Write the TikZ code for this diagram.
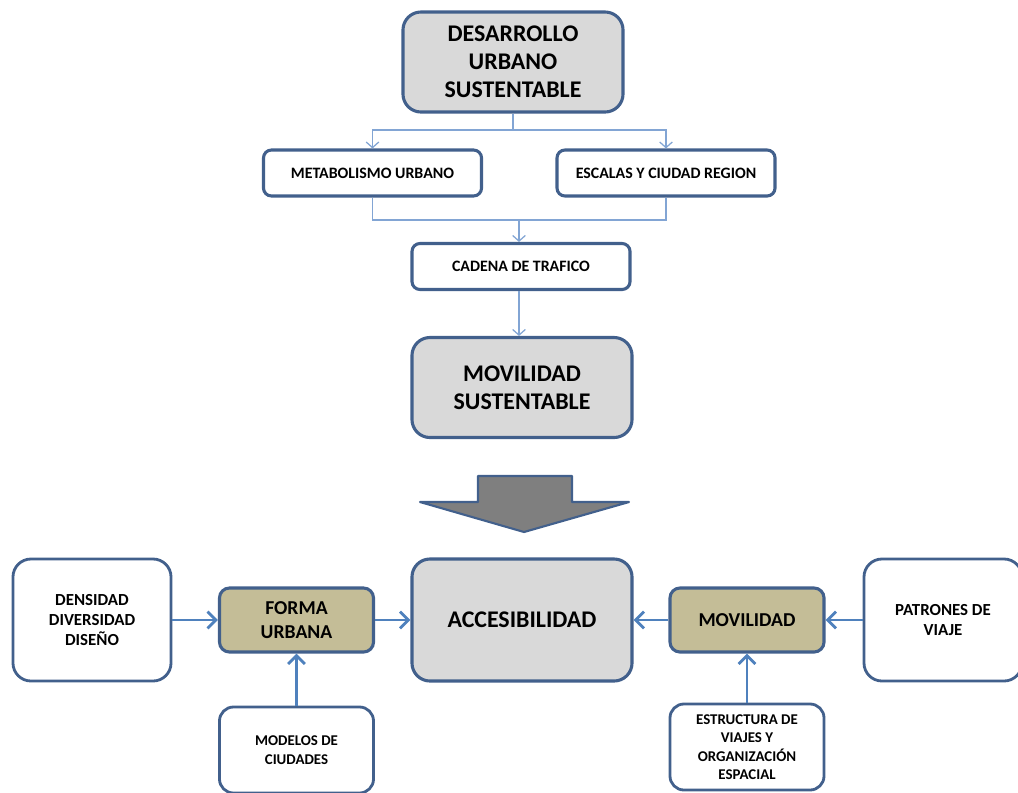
\documentclass[tikz,border=0pt]{standalone}
\usepackage{fontspec}
\setmainfont{Carlito}
\usetikzlibrary{arrows.meta}
\definecolor{boxline}{RGB}{66,96,140}
\definecolor{boxgray}{RGB}{217,217,217}
\definecolor{boxtan}{RGB}{196,189,151}
\definecolor{thinline}{RGB}{130,165,212}
\definecolor{thickline}{RGB}{79,129,189}
\definecolor{bigarrow}{RGB}{127,127,127}

\begin{document}
\begin{tikzpicture}[x=0.025cm, y=-0.025cm,
	bigbox/.style={draw=boxline, line width=2.2pt, fill=boxgray, rounded corners=0.45cm, align=center, font=\bfseries\fontsize{17}{20}\selectfont, minimum width=5.5cm, minimum height=2.5cm},
	smallbox/.style={draw=boxline, line width=2.2pt, fill=white, rounded corners=0.2cm, align=center, font=\bfseries\fontsize{11.3}{13}\selectfont, minimum width=5.45cm, minimum height=1.15cm},
	sidebox/.style={draw=boxline, line width=2pt, fill=white, rounded corners=0.45cm, align=center, font=\bfseries\fontsize{12}{14}\selectfont, minimum width=3.95cm, minimum height=3.05cm},
	midbox/.style={draw=boxline, line width=2.2pt, fill=boxtan, rounded corners=0.25cm, align=center, font=\bfseries\fontsize{14}{17}\selectfont, minimum width=3.85cm, minimum height=1.6cm},
	lowbox/.style={draw=boxline, line width=2pt, fill=white, rounded corners=0.35cm, align=center, font=\bfseries\fontsize{10.6}{13.2}\selectfont, minimum width=3.85cm, minimum height=2.15cm},
	thin/.style={draw=thinline, line width=0.9pt},
	thinarrow/.style={thin, -{Straight Barb[length=4pt,width=9pt]}},
	thick/.style={draw=thickline, line width=2pt, -{Straight Barb[length=6pt,width=12pt]}}
	]
	\useasboundingbox (0,0) rectangle (1018,792);
	
	\node [bigbox] (dus) at (513,62){DESARROLLO\\URBANO\\SUSTENTABLE};
	\node [smallbox] (metab) at (372.5,173){METABOLISMO URBANO};
	\node [smallbox] (escal) at (666,173){ESCALAS Y CIUDAD REGION};
	\node [smallbox] (caden) at (521,266.5){CADENA DE TRAFICO};
	\node [bigbox] (movsus) at (522,387.5){MOVILIDAD\\SUSTENTABLE};
	
	\filldraw [draw=boxline, line width=1.5pt, line join=round, fill=bigarrow] (478,476) -- (572,476) -- (572,502) -- (629,502) -- (524,532) -- (420,502) -- (478,502) -- cycle;
	
	\node [bigbox, minimum height=3.05cm] (acces) at (522,620){ACCESIBILIDAD};
	\node [sidebox] (dens) at (92,620){DENSIDAD\\DIVERSIDAD\\DISEÑO};
	\node [midbox] (forma) at (296.5,620){FORMA\\URBANA};
	\node [midbox] (movil) at (747,620){MOVILIDAD};
	\node [sidebox] (patro) at (943,620){PATRONES DE\\VIAJE};
	\node [lowbox] (model) at (296.5,750){MODELOS DE\\CIUDADES};
	\node [lowbox] (estru) at (747,747){ESTRUCTURA DE\\VIAJES Y\\ORGANIZACIÓN\\ESPACIAL};
	
	\coordinate (top) at (513,130);
	\coordinate (mid) at (519,220);
	\draw [thin] (dus) -- (top);
	\draw [thinarrow] (top) -| (metab);
	\draw [thinarrow] (top) -| (escal);
	\draw [thin] (metab) |- (mid);
	\draw [thin] (escal) |- (mid);
	\draw [thinarrow] (mid) -- (mid |- caden.north);
	\draw [thinarrow] (caden.south -| mid) -- (mid |- movsus.north);
	
	\draw [thick] (dens) -- (forma);
	\draw [thick] (forma) -- (forma -| acces.west);
	\draw [thick] (movil) -- (movil -| acces.east);
	\draw [thick] (patro) -- (movil);
	\draw [thick] (model) -- (forma);
	\draw [thick] (estru) -- (movil);
	
\end{tikzpicture}
\end{document}
